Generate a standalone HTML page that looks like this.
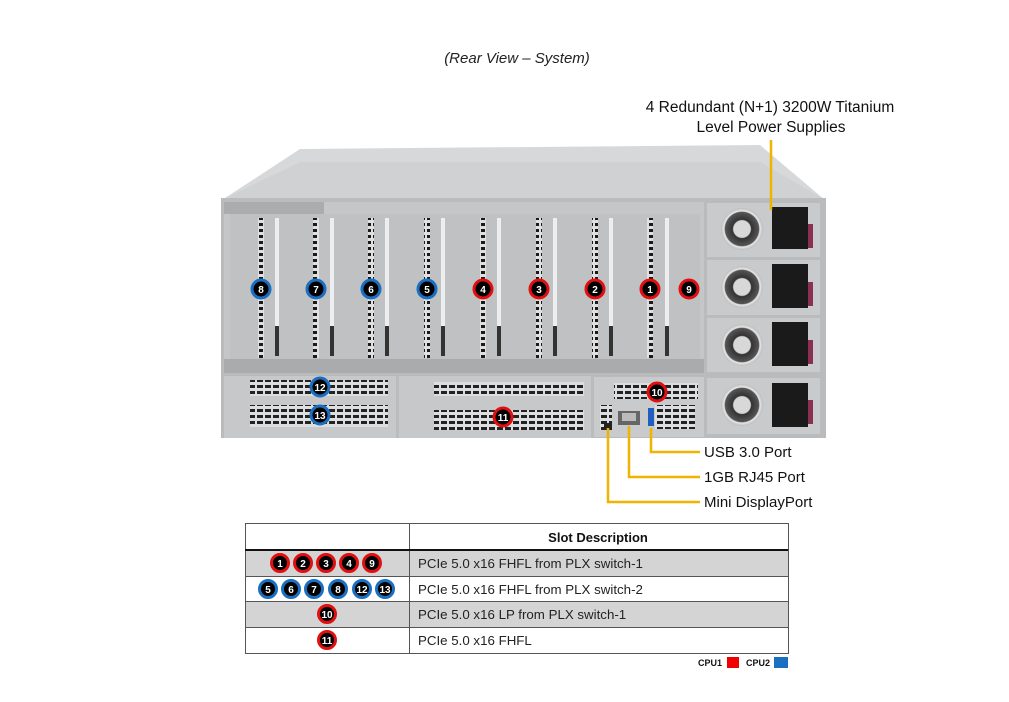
<!DOCTYPE html>
<html><head><meta charset="utf-8"><style>
body{margin:0;background:#fff;}
svg{display:block;font-family:"Liberation Sans",sans-serif;}
</style></head><body>
<svg width="1009" height="702" viewBox="0 0 1009 702" xmlns="http://www.w3.org/2000/svg">
<defs>
<pattern id="perf" width="8" height="6" patternUnits="userSpaceOnUse"><rect width="8" height="6" fill="#dcdedf"/><rect x="1" y="1" width="6" height="3" fill="#222"/></pattern>
<pattern id="vperf" width="6" height="6" patternUnits="userSpaceOnUse"><rect width="6" height="6" fill="#e0e0e0"/><rect x="1" y="1" width="4" height="3" fill="#1a1a1a"/></pattern>
<radialGradient id="fan"><stop offset="0.4" stop-color="#d8d8d8"/><stop offset="0.45" stop-color="#333"/><stop offset="0.8" stop-color="#555"/><stop offset="0.85" stop-color="#e8e8e8"/><stop offset="1" stop-color="#bbb"/></radialGradient>
</defs>
<text x="517" y="63" font-size="15" font-style="italic" text-anchor="middle" fill="#222">(Rear View – System)</text>
<text x="770" y="112" font-size="15.5" text-anchor="middle" fill="#111">4 Redundant (N+1) 3200W Titanium</text>
<text x="771" y="132" font-size="15.5" text-anchor="middle" fill="#111">Level Power Supplies</text>
<polygon points="222,200 300,149 760,145 825,200" fill="#d6d8da"/>
<polygon points="222,200 300,162 760,162 825,200" fill="#cfd1d3"/>
<rect x="221" y="198" width="605" height="240" fill="#b9bbbd"/>
<rect x="224" y="202" width="480" height="170" fill="#c4c6c8"/>
<rect x="224" y="202" width="100" height="12" fill="#aaacae"/>
<rect x="230" y="214" width="470" height="152" fill="#bfc1c3"/>
<g fill="url(#vperf)">
<rect x="258" y="218" width="6" height="140"/><rect x="313" y="218" width="6" height="140"/><rect x="368" y="218" width="6" height="140"/><rect x="424" y="218" width="6" height="140"/><rect x="480" y="218" width="6" height="140"/><rect x="536" y="218" width="6" height="140"/><rect x="592" y="218" width="6" height="140"/><rect x="647" y="218" width="6" height="140"/>
</g>
<g fill="#eceeef">
<rect x="275" y="218" width="4" height="108"/><rect x="330" y="218" width="4" height="108"/><rect x="385" y="218" width="4" height="108"/><rect x="441" y="218" width="4" height="108"/><rect x="497" y="218" width="4" height="108"/><rect x="553" y="218" width="4" height="108"/><rect x="609" y="218" width="4" height="108"/><rect x="665" y="218" width="4" height="108"/>
</g>
<g fill="#333"><rect x="275" y="326" width="4" height="30"/><rect x="330" y="326" width="4" height="30"/><rect x="385" y="326" width="4" height="30"/><rect x="441" y="326" width="4" height="30"/><rect x="497" y="326" width="4" height="30"/><rect x="553" y="326" width="4" height="30"/><rect x="609" y="326" width="4" height="30"/><rect x="665" y="326" width="4" height="30"/></g>
<rect x="224" y="359" width="480" height="14" fill="#a9abad"/>
<rect x="224" y="376" width="172" height="62" fill="#c6c8ca"/>
<rect x="250" y="380" width="138" height="16" fill="url(#perf)"/>
<rect x="250" y="405" width="138" height="22" fill="url(#perf)"/>
<rect x="399" y="376" width="192" height="62" fill="#c6c8ca"/>
<rect x="434" y="382" width="150" height="14" fill="url(#perf)"/>
<rect x="434" y="410" width="150" height="20" fill="url(#perf)"/>
<rect x="594" y="377" width="110" height="60" fill="#c8cacc"/>
<rect x="614" y="383" width="84" height="16" fill="url(#perf)"/>
<rect x="655" y="405" width="40" height="24" fill="url(#perf)"/>
<rect x="600" y="405" width="12" height="25" fill="url(#perf)"/>
<rect x="618" y="411" width="22" height="14" fill="#666"/><rect x="622" y="413" width="14" height="8" fill="#bbb"/>
<rect x="648" y="408" width="6" height="18" fill="#1f5fc0"/>
<rect x="604" y="423" width="8" height="7" fill="#222"/>
<g>
<rect x="707" y="203" width="113" height="54" fill="#c8cacc"/>
<rect x="707" y="260" width="113" height="55" fill="#c8cacc"/>
<rect x="707" y="318" width="113" height="54" fill="#c8cacc"/>
<rect x="707" y="378" width="113" height="56" fill="#c8cacc"/>
<circle cx="742" cy="229" r="21" fill="url(#fan)"/><circle cx="742" cy="287" r="21" fill="url(#fan)"/><circle cx="742" cy="345" r="21" fill="url(#fan)"/><circle cx="742" cy="405" r="21" fill="url(#fan)"/>
<rect x="772" y="207" width="36" height="42" fill="#1a1a1a"/><rect x="772" y="264" width="36" height="44" fill="#1a1a1a"/><rect x="772" y="322" width="36" height="44" fill="#1a1a1a"/><rect x="772" y="383" width="36" height="44" fill="#1a1a1a"/>
<rect x="808" y="224" width="5" height="24" fill="#8a3050"/><rect x="808" y="282" width="5" height="24" fill="#8a3050"/><rect x="808" y="340" width="5" height="24" fill="#8a3050"/><rect x="808" y="400" width="5" height="24" fill="#8a3050"/>
</g>
<g stroke="#f0b400" stroke-width="2.5" fill="none">
<line x1="771" y1="140" x2="771" y2="210"/>
<polyline points="651,428 651,452 700,452"/>
<polyline points="629,426 629,477 700,477"/>
<polyline points="608,428 608,502 700,502"/>
</g>
<g font-size="15" fill="#111">
<text x="704" y="457">USB 3.0 Port</text>
<text x="704" y="482">1GB RJ45 Port</text>
<text x="704" y="507">Mini DisplayPort</text>
</g>
<g font-size="10" font-weight="bold" fill="#fff" text-anchor="middle" stroke-width="3">
<g stroke="#1a6fc0"><circle cx="261" cy="289" r="9" fill="#000"/><circle cx="316" cy="289" r="9" fill="#000"/><circle cx="371" cy="289" r="9" fill="#000"/><circle cx="427" cy="289" r="9" fill="#000"/><circle cx="320" cy="387" r="9" fill="#000"/><circle cx="320" cy="415" r="9" fill="#000"/></g>
<g stroke="#e01010"><circle cx="483" cy="289" r="9" fill="#000"/><circle cx="539" cy="289" r="9" fill="#000"/><circle cx="595" cy="289" r="9" fill="#000"/><circle cx="650" cy="289" r="9" fill="#000"/><circle cx="689" cy="289" r="9" fill="#000"/><circle cx="657" cy="392" r="9" fill="#000"/><circle cx="503" cy="417" r="9" fill="#000"/></g>
<text x="261" y="293">8</text><text x="316" y="293">7</text><text x="371" y="293">6</text><text x="427" y="293">5</text><text x="483" y="293">4</text><text x="539" y="293">3</text><text x="595" y="293">2</text><text x="650" y="293">1</text><text x="689" y="293">9</text>
<text x="320" y="391">12</text><text x="320" y="419">13</text><text x="657" y="396">10</text><text x="503" y="421">11</text>
</g>
<rect x="245" y="550" width="543" height="26" fill="#d4d4d4"/>
<rect x="245" y="601" width="543" height="26" fill="#d4d4d4"/>
<g stroke="#555" stroke-width="1" fill="none">
<rect x="245.5" y="523.5" width="543" height="130"/>
<line x1="409.5" y1="523" x2="409.5" y2="654"/>
<line x1="245" y1="576.5" x2="788" y2="576.5"/>
<line x1="245" y1="601.5" x2="788" y2="601.5"/>
<line x1="245" y1="627.5" x2="788" y2="627.5"/>
</g>
<line x1="245" y1="550" x2="788" y2="550" stroke="#111" stroke-width="2"/>
<text x="598" y="542" font-size="13" font-weight="bold" text-anchor="middle" fill="#111">Slot Description</text>
<g font-size="13.3" fill="#222">
<text x="418" y="568">PCIe 5.0 x16 FHFL from PLX switch-1</text>
<text x="418" y="594">PCIe 5.0 x16 FHFL from PLX switch-2</text>
<text x="418" y="619">PCIe 5.0 x16 LP from PLX switch-1</text>
<text x="418" y="645">PCIe 5.0 x16 FHFL</text>
</g>
<g font-size="10" font-weight="bold" fill="#fff" text-anchor="middle" stroke-width="3">
<g stroke="#e01010" fill="#000"><circle cx="280" cy="563" r="8.5"/><circle cx="303" cy="563" r="8.5"/><circle cx="326" cy="563" r="8.5"/><circle cx="349" cy="563" r="8.5"/><circle cx="372" cy="563" r="8.5"/><circle cx="327" cy="614" r="8.5"/><circle cx="327" cy="640" r="8.5"/></g>
<g stroke="#1a6fc0" fill="#000"><circle cx="268" cy="589" r="8.5"/><circle cx="291" cy="589" r="8.5"/><circle cx="314" cy="589" r="8.5"/><circle cx="338" cy="589" r="8.5"/><circle cx="362" cy="589" r="8.5"/><circle cx="385" cy="589" r="8.5"/></g>
<text x="280" y="567">1</text><text x="303" y="567">2</text><text x="326" y="567">3</text><text x="349" y="567">4</text><text x="372" y="567">9</text>
<text x="268" y="593">5</text><text x="291" y="593">6</text><text x="314" y="593">7</text><text x="338" y="593">8</text><text x="362" y="593">12</text><text x="385" y="593">13</text>
<text x="327" y="618">10</text><text x="327" y="644">11</text>
</g>
<g font-size="9" font-weight="bold" fill="#111">
<text x="698" y="666">CPU1</text><text x="746" y="666">CPU2</text>
</g>
<rect x="727" y="657" width="12" height="11" fill="#f00000"/>
<rect x="774" y="657" width="14" height="11" fill="#1a6fc0"/>
</svg>
</body></html>
